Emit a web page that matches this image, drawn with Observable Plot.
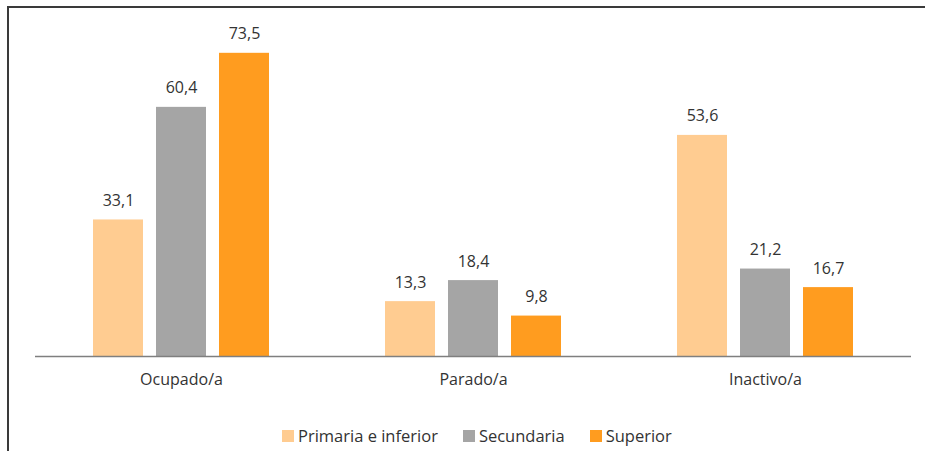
<!DOCTYPE html>
<html>
<head>
<meta charset="utf-8">
<script src="https://cdn.jsdelivr.net/npm/d3@7"></script>
<script src="https://cdn.jsdelivr.net/npm/@observablehq/plot@0.6"></script>
<style>
  html, body { margin: 0; padding: 0; background: #fff; }
  #wrap { position: relative; width: 925px; height: 451px; overflow: hidden; font-family: "Open Sans", sans-serif; }
  #frame { position: absolute; left: 7px; top: 6px; width: 940px; height: 460px; border-left: 2px solid #3a3a3a; border-top: 2px solid #3a3a3a; pointer-events: none; }
  #chart { position: absolute; left: 0; top: 0; }
  #legend { position: absolute; left: 282px; top: 419px; }
  .lg-swatch { margin-right: 25px !important; }
  .lg-swatch > svg { margin-right: 4px !important; }
</style>
</head>
<body>
<div id="wrap">
  <div id="chart"></div>
  <div id="legend"></div>
  <div id="frame"></div>
</div>
<script>
const categories = ["Ocupado/a", "Parado/a", "Inactivo/a"];
const series = ["Primaria e inferior", "Secundaria", "Superior"];
const primaria = [33.1, 13.3, 53.6];
const secundaria = [60.4, 18.4, 21.2];
const superior = [73.5, 9.8, 16.7];
const colors = ["#FFCC91", "#A5A5A5", "#FF9C1F"];

const values = [primaria, secundaria, superior];
const data = [];
categories.forEach((c, i) => {
  series.forEach((s, j) => {
    data.push({category: c, series: s, value: values[j][i]});
  });
});

const fmt = v => v.toFixed(1).replace(".", ",");

const plot = Plot.plot({
  width: 925,
  height: 420,
  marginLeft: 35,
  marginRight: 14,
  marginTop: 26,
  marginBottom: 64,
  style: {fontFamily: "Open Sans, sans-serif", fontSize: "16px", color: "#333333", background: "transparent"},
  fx: {domain: categories, padding: 0, axis: "bottom", label: null, tickSize: 0, tickPadding: 17},
  x: {domain: series, paddingInner: 0.203, paddingOuter: 0.883, axis: null},
  y: {domain: [0, 80], axis: null},
  color: {domain: series, range: colors},
  marks: [
    Plot.barY(data, {fx: "category", x: "series", y: "value", fill: "series"}),
    Plot.ruleY([0], {stroke: "#7f7f7f", strokeWidth: 1.5}),
    Plot.text(data, {fx: "category", x: "series", y: "value", text: d => fmt(d.value), lineAnchor: "bottom", dy: -14, fill: "#333333", fontSize: 16})
  ]
});
document.getElementById("chart").appendChild(plot);

const legend = Plot.legend({
  color: {domain: series, range: colors},
  swatchSize: 12,
  className: "lg",
  style: {fontFamily: "Open Sans, sans-serif", fontSize: "16.5px", color: "#333333", background: "transparent"}
});
document.getElementById("legend").appendChild(legend);
</script>
</body>
</html>
